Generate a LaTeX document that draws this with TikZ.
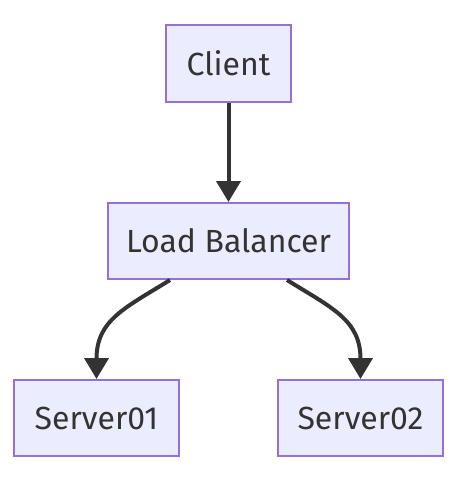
\documentclass[tikz,border=0pt]{standalone}
\usepackage{fontspec}
\setmainfont{Fira Sans}
\usetikzlibrary{arrows.meta}
\definecolor{boxfill}{HTML}{ECECFF}
\definecolor{boxline}{HTML}{9370DB}
\definecolor{linkc}{HTML}{333333}
\begin{document}
\begin{tikzpicture}[x=0.5pt,y=-0.5pt,
  box/.style={draw=boxline, fill=boxfill, line width=1pt, inner sep=0pt,
    minimum height=38pt, font=\fontsize{16}{19}\selectfont, text=linkc},
  link/.style={draw=linkc, line width=2pt, -{Triangle[length=10.5pt,width=12pt]}}]
\useasboundingbox (0,0) rectangle (460,478);
\node[box, minimum width=62.5pt, minimum height=38.5pt] (c) at (228.5,63.5) {Client};
\node[box, minimum width=120.5pt] (lb) at (228.5,241) {Load Balancer};
\node[box, minimum width=82.5pt] (s1) at (96.5,418) {Server01};
\node[box, minimum width=82.5pt] (s2) at (360.5,418) {Server02};
\draw[link] (c) -- (lb);
\coordinate (l1) at (170,280);
\coordinate (l2) at (287,280);
\draw[link] (l1) .. controls (125,308) and (96.5,320) .. (s1.north);
\draw[link] (l2) .. controls (332,308) and (360.5,320) .. (s2.north);
\end{tikzpicture}
\end{document}
